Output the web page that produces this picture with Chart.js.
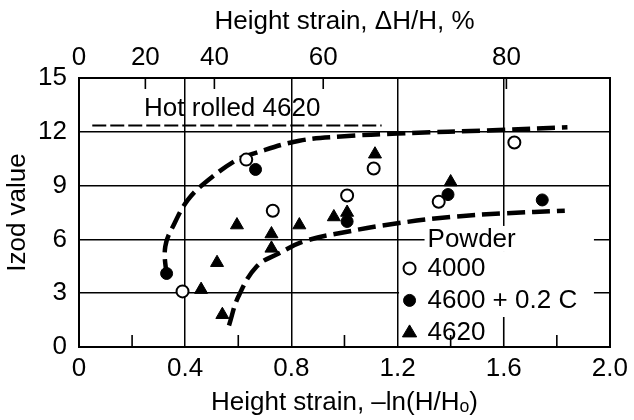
<!doctype html>
<html>
  <head>
    <script src="https://cdn.jsdelivr.net/npm/chart.js"></script>
    <style>
      html, body { margin: 0; padding: 0; background: #fff; }
      #wrap { width: 634px; height: 420px; }
    </style>
  </head>
  <body>
    <div id="wrap"><canvas id="izodChart" width="634" height="420"></canvas></div>
    <script>
      // top axis: ΔH/H in %, placed where they sit on the -ln(H/Ho) scale
      const topLabels = ["0", "20", "40", "60", "80"];
      const topTickPos = [0, 0.25, 0.51, 0.92, 1.61];
      const bottomMinor = [0.2, 0.6, 1.0, 1.4, 1.8];

      // Powder 4000 (open circles)
      const x4000 = [0.39, 0.63, 0.73, 1.01, 1.11, 1.355, 1.64];
      const y4000 = [3.1, 10.45, 7.6, 8.45, 9.95, 8.1, 11.4];
      // Powder 4600 + 0.2 C (filled circles)
      const x4600 = [0.33, 0.665, 1.01, 1.39, 1.745];
      const y4600 = [4.1, 9.9, 7.0, 8.5, 8.2];
      // Powder 4620 (triangles)
      const x4620 = [0.46, 0.52, 0.54, 0.595, 0.725, 0.725, 0.83, 0.96, 1.01, 1.115, 1.4];
      const y4620 = [3.2, 4.7, 1.8, 6.8, 6.3, 5.5, 6.8, 7.25, 7.5, 10.75, 9.2];

      // hand drawn trend curves
      const upperX = [0.33, 0.325, 0.36, 0.41, 0.47, 0.59, 0.66, 0.83, 1.0, 1.2, 1.58, 1.84];
      const upperY = [3.9, 5.6, 6.9, 8.2, 9.1, 10.4, 10.8, 11.5, 11.75, 11.9, 12.1, 12.25];
      const lowerX = [0.565, 0.6, 0.67, 0.75, 0.85, 1.0, 1.2, 1.4, 1.6, 1.83];
      const lowerY = [1.2, 2.8, 4.5, 5.2, 5.9, 6.4, 6.9, 7.25, 7.45, 7.6];

      // hot rolled 4620 reference level
      const hotX = [0.05, 1.14];
      const hotY = [12.35, 12.35];

      const zip = (xs, ys) => xs.map((x, i) => ({ x: x, y: ys[i] }));
      const FONT = "'Liberation Sans', Arial, Helvetica, sans-serif";

      const overlay = {
        id: "overlay",
        beforeDatasetsDraw(chart) {
          const ctx = chart.ctx;
          const xs = chart.scales.x;
          const ys = chart.scales.y;
          const area = chart.chartArea;
          const x12 = xs.getPixelForValue(1.2);
          const boxRight = area.right - 16;
          ctx.save();

          // legend background hides the grid there
          ctx.fillStyle = "#fff";
          const titleTop = ys.getPixelForValue(6.75);
          const rowsTop = ys.getPixelForValue(5.3);
          ctx.fillRect(x12 + 27, titleTop, boxRight - x12 - 27, rowsTop - titleTop);
          ctx.fillRect(x12 + 1.5, rowsTop, boxRight - x12 - 1.5, area.bottom - rowsTop - 1);

          // inward ticks
          ctx.strokeStyle = "#000";
          ctx.lineWidth = 1.6;
          ctx.beginPath();
          bottomMinor.forEach(v => {
            const px = xs.getPixelForValue(v);
            ctx.moveTo(px, area.bottom);
            ctx.lineTo(px, area.bottom - 12);
          });
          const p16 = xs.getPixelForValue(1.6);
          ctx.moveTo(p16, area.bottom);
          ctx.lineTo(p16, area.bottom - 30);
          topTickPos.slice(1).forEach(v => {
            const px = xs.getPixelForValue(v);
            ctx.moveTo(px, area.top);
            ctx.lineTo(px, area.top + 11);
          });
          ctx.stroke();

          // hot rolled label
          ctx.fillStyle = "#000";
          ctx.font = "26px " + FONT;
          ctx.textBaseline = "middle";
          ctx.textAlign = "left";
          ctx.fillText("Hot rolled 4620", xs.getPixelForValue(0.245), ys.getPixelForValue(13.3));

          // legend
          const lx = x12 + 12;
          const tx = lx + 18;
          ctx.fillText("Powder", tx, ys.getPixelForValue(6));
          const items = chart.data.datasets.filter(d => d.inLegend);
          items.forEach((d, i) => {
            const cy = ys.getPixelForValue(6) + 29 + i * 32;
            ctx.fillStyle = d.pointBackgroundColor;
            ctx.strokeStyle = "#000";
            ctx.lineWidth = d.pointBorderWidth;
            ctx.beginPath();
            if (d.pointStyle === "circle") {
              ctx.arc(lx, cy, d.pointRadius, 0, Math.PI * 2);
            } else {
              const r = d.pointRadius;
              ctx.moveTo(lx, cy - r);
              ctx.lineTo(lx + r * 0.95, cy + r * 0.6);
              ctx.lineTo(lx - r * 0.95, cy + r * 0.6);
              ctx.closePath();
            }
            ctx.fill();
            ctx.stroke();
            ctx.fillStyle = "#000";
            ctx.fillText(d.label, tx, cy);
          });
          ctx.restore();
        }
      };

      const ctx = document.getElementById("izodChart").getContext("2d");
      const izodChart = new Chart(ctx, {
        type: "scatter",
        data: {
          datasets: [
            {
              label: "4000",
              inLegend: true,
              data: zip(x4000, y4000),
              pointStyle: "circle",
              pointRadius: 6,
              pointBorderWidth: 2,
              pointBackgroundColor: "#fff",
              pointBorderColor: "#000",
              order: 1
            },
            {
              label: "4600 + 0.2 C",
              inLegend: true,
              data: zip(x4600, y4600),
              pointStyle: "circle",
              pointRadius: 6,
              pointBorderWidth: 1,
              pointBackgroundColor: "#000",
              pointBorderColor: "#000",
              order: 2
            },
            {
              label: "4620",
              inLegend: true,
              data: zip(x4620, y4620),
              pointStyle: "triangle",
              pointRadius: 7.5,
              pointBorderWidth: 1,
              pointBackgroundColor: "#000",
              pointBorderColor: "#000",
              order: 3
            },
            {
              label: "upper",
              type: "line",
              data: zip(upperX, upperY),
              showLine: true,
              pointRadius: 0,
              borderColor: "#000",
              borderWidth: 4.5,
              borderDash: [18, 7],
              tension: 0.4,
              fill: false,
              order: 4
            },
            {
              label: "lower",
              type: "line",
              data: zip(lowerX, lowerY),
              showLine: true,
              pointRadius: 0,
              borderColor: "#000",
              borderWidth: 4.5,
              borderDash: [18, 7],
              tension: 0.4,
              fill: false,
              order: 5
            },
            {
              label: "Hot rolled 4620",
              type: "line",
              data: zip(hotX, hotY),
              showLine: true,
              pointRadius: 0,
              borderColor: "#000",
              borderWidth: 2,
              borderDash: [14, 4],
              fill: false,
              order: 6
            }
          ]
        },
        options: {
          responsive: false,
          animation: false,
          layout: { padding: 0 },
          plugins: {
            legend: { display: false },
            tooltip: { enabled: false }
          },
          scales: {
            x: {
              type: "linear",
              position: "bottom",
              min: 0,
              max: 2,
              afterFit: s => { s.height = 73; },
              ticks: {
                stepSize: 0.4,
                color: "#000",
                padding: 6,
                font: { family: FONT, size: 26 },
                callback: v => (v === 0 ? "0" : v.toFixed(1))
              },
              grid: { color: "#000", lineWidth: 1.5, drawTicks: false },
              border: { color: "#000", width: 2 },
              title: {
                display: true,
                text: "Height strain, –ln(H/Hₒ)",
                color: "#000",
                font: { family: FONT, size: 26 },
                padding: { top: 0, bottom: 2 }
              }
            },
            x2: {
              type: "linear",
              position: "top",
              min: 0,
              max: 2,
              afterFit: s => { s.height = 78; },
              afterBuildTicks: s => { s.ticks = topTickPos.map(v => ({ value: v })); },
              ticks: {
                color: "#000",
                padding: 5,
                autoSkip: false,
                maxRotation: 0,
                font: { family: FONT, size: 26 },
                callback: (v, i) => topLabels[i]
              },
              grid: { drawOnChartArea: false, drawTicks: false },
              border: { color: "#000", width: 2 },
              title: {
                display: true,
                text: "Height strain, ΔH/H, %",
                color: "#000",
                font: { family: FONT, size: 26 },
                padding: { top: 6, bottom: 0 }
              }
            },
            y: {
              type: "linear",
              position: "left",
              min: 0,
              max: 15,
              afterFit: s => { s.width = 79; },
              ticks: {
                stepSize: 3,
                color: "#000",
                padding: 12,
                font: { family: FONT, size: 26 }
              },
              grid: { color: "#000", lineWidth: 1.5, drawTicks: false },
              border: { color: "#000", width: 2 },
              title: {
                display: true,
                text: "Izod value",
                color: "#000",
                font: { family: FONT, size: 26 },
                padding: { top: 2, bottom: 0 }
              }
            },
            y2: {
              type: "linear",
              position: "right",
              min: 0,
              max: 15,
              afterFit: s => { s.width = 21; },
              ticks: { display: false },
              grid: { drawOnChartArea: false, drawTicks: false },
              border: { color: "#000", width: 2 }
            }
          }
        },
        plugins: [overlay]
      });
    </script>
  </body>
</html>
